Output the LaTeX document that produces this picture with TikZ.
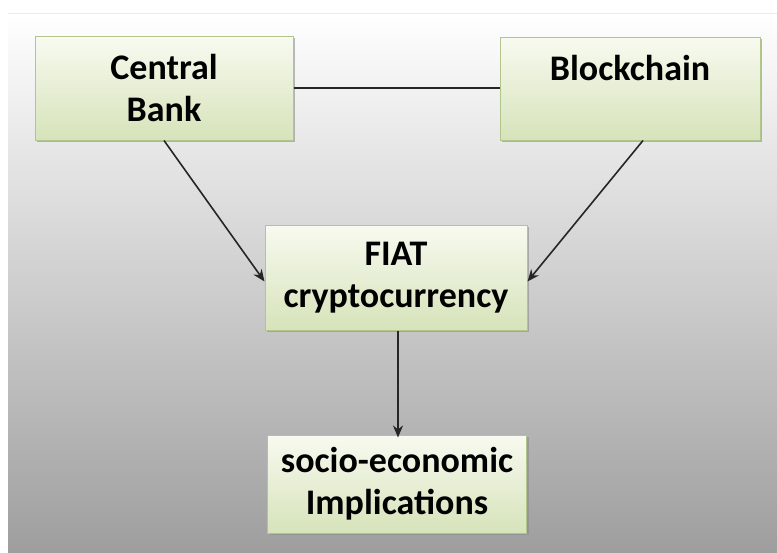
\documentclass[tikz,border=0pt]{standalone}
\usepackage{fontspec}
\setmainfont{Carlito}
\usetikzlibrary{shadows,arrows.meta}
\definecolor{boxtop}{HTML}{F8FAF0}
\definecolor{boxbottom}{HTML}{D6E3BA}
\definecolor{boxline}{HTML}{B2C58C}
\tikzset{
  greenbox/.style={draw=boxline, line width=1pt, top color=boxtop, bottom color=boxbottom,
    minimum width=#1, inner sep=0pt, align=center, font=\fontsize{36}{42}\selectfont\bfseries,
    drop shadow={shadow xshift=2pt, shadow yshift=-2pt, fill=black!45, opacity=0.6}},
  link/.style={line width=1.6pt, black!85},
  >={Stealth[length=12pt,width=10pt]}
}
\begin{document}
\begin{tikzpicture}[x=1pt,y=-1pt]
	\useasboundingbox (0,0) rectangle (777,552);
	\shade[top color=white, bottom color=black!38] (8,13) rectangle (777,552);
	\draw[black!8, line width=1pt] (8,13)--(777,13);
	\node[greenbox=258pt, minimum height=104pt] (cb) at (164,88) {Central\\Bank};
	\node[greenbox=260pt, minimum height=103pt] (bc) at (630,88.5) {Blockchain\\\mbox{}};
	\node[greenbox=262pt, minimum height=105pt] (fiat) at (396,277.5) {FIAT\\cryptocurrency};
	\node[greenbox=259pt, minimum height=98pt] (socio) at (397,484) {socio-economic\\Implications};
	\draw[link] (cb.east)--(cb.east -| bc.west);
	\draw[link,->] (cb.south)--([yshift=-4pt]fiat.west);
	\draw[link,->] ([xshift=13pt]bc.south)--([yshift=-4pt]fiat.east);
	\draw[link,->] ([xshift=2pt]fiat.south)--([xshift=2pt,yshift=-3pt]fiat.south |- socio.north);
\end{tikzpicture}
\end{document}
